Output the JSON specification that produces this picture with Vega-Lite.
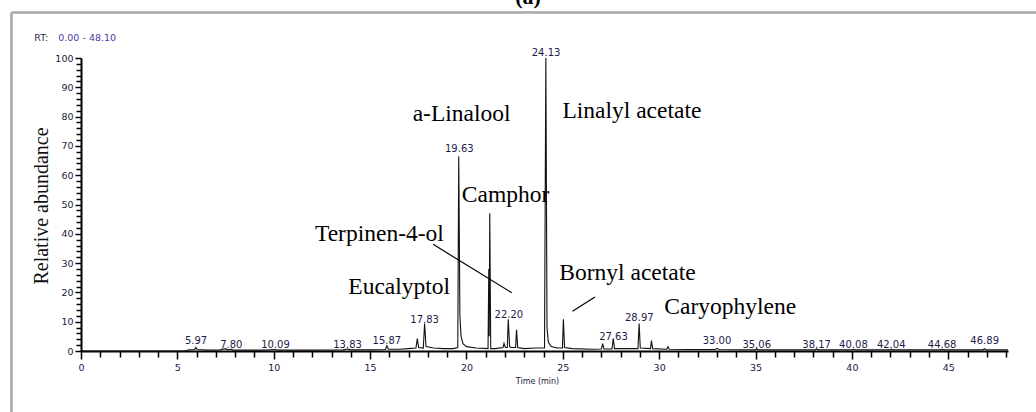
{
  "$schema": "https://vega.github.io/schema/vega-lite/v6.json",
  "width": 927,
  "height": 293,
  "autosize": {"type": "none"},
  "padding": {"left": 81, "top": 58, "right": 28, "bottom": 61},
  "background": "white",
  "config": {"view": {"stroke": null}},
  "datasets": {
    "trace": [
      {"rt": 0, "v": 0}, {"rt": 5.4, "v": 0}, {"rt": 5.6, "v": 0.4}, {"rt": 5.9, "v": 0.5}, {"rt": 5.96, "v": 1.2}, {"rt": 6.02, "v": 0.5},
      {"rt": 6.6, "v": 0.3}, {"rt": 7.2, "v": 0.4}, {"rt": 7.5, "v": 0.8}, {"rt": 7.6, "v": 0.4}, {"rt": 7.8, "v": 0.6}, {"rt": 7.9, "v": 0.3},
      {"rt": 9.5, "v": 0.3}, {"rt": 10.09, "v": 0.5}, {"rt": 10.2, "v": 0.3}, {"rt": 12.0, "v": 0.3}, {"rt": 13.6, "v": 0.4}, {"rt": 13.83, "v": 0.7},
      {"rt": 14.0, "v": 0.4}, {"rt": 15.0, "v": 0.4}, {"rt": 15.8, "v": 0.5}, {"rt": 15.87, "v": 1.8}, {"rt": 15.95, "v": 0.6}, {"rt": 16.5, "v": 0.6},
      {"rt": 17.0, "v": 0.8}, {"rt": 17.38, "v": 1.0}, {"rt": 17.45, "v": 4.2}, {"rt": 17.52, "v": 1.2}, {"rt": 17.76, "v": 1.0}, {"rt": 17.83, "v": 9.4},
      {"rt": 17.9, "v": 1.5}, {"rt": 18.3, "v": 1.0}, {"rt": 18.8, "v": 0.8}, {"rt": 19.3, "v": 0.8}, {"rt": 19.55, "v": 1.2}, {"rt": 19.6, "v": 66.5},
      {"rt": 19.66, "v": 12}, {"rt": 19.72, "v": 5}, {"rt": 19.82, "v": 2.5}, {"rt": 20.0, "v": 1.5}, {"rt": 20.5, "v": 1.0}, {"rt": 21.12, "v": 0.8},
      {"rt": 21.16, "v": 28}, {"rt": 21.18, "v": 5}, {"rt": 21.21, "v": 47}, {"rt": 21.23, "v": 28}, {"rt": 21.26, "v": 0.8}, {"rt": 21.5, "v": 0.8},
      {"rt": 21.9, "v": 1.2}, {"rt": 21.95, "v": 2.6}, {"rt": 22.02, "v": 1.2}, {"rt": 22.12, "v": 1.2}, {"rt": 22.17, "v": 10.8}, {"rt": 22.24, "v": 1.5},
      {"rt": 22.3, "v": 1.2}, {"rt": 22.55, "v": 1.2}, {"rt": 22.6, "v": 7.2}, {"rt": 22.66, "v": 1.2}, {"rt": 23.0, "v": 0.8}, {"rt": 23.6, "v": 1.0},
      {"rt": 24.05, "v": 1.0}, {"rt": 24.12, "v": 100}, {"rt": 24.18, "v": 8}, {"rt": 24.25, "v": 3}, {"rt": 24.4, "v": 1.5}, {"rt": 24.7, "v": 1.0},
      {"rt": 24.98, "v": 1.0}, {"rt": 25.03, "v": 10.8}, {"rt": 25.09, "v": 1.2}, {"rt": 25.5, "v": 0.8}, {"rt": 26.5, "v": 0.6}, {"rt": 27.0, "v": 0.7},
      {"rt": 27.07, "v": 2.5}, {"rt": 27.13, "v": 0.7}, {"rt": 27.55, "v": 0.7}, {"rt": 27.62, "v": 4.2}, {"rt": 27.68, "v": 0.8}, {"rt": 28.9, "v": 0.8},
      {"rt": 28.96, "v": 9.4}, {"rt": 29.02, "v": 1.0}, {"rt": 29.55, "v": 0.8}, {"rt": 29.6, "v": 3.6}, {"rt": 29.66, "v": 0.8}, {"rt": 30.4, "v": 0.6},
      {"rt": 30.46, "v": 1.5}, {"rt": 30.52, "v": 0.6}, {"rt": 31.5, "v": 0.5}, {"rt": 32.9, "v": 0.5}, {"rt": 33.0, "v": 0.9}, {"rt": 33.1, "v": 0.5},
      {"rt": 35.0, "v": 0.4}, {"rt": 35.06, "v": 0.8}, {"rt": 35.12, "v": 0.4}, {"rt": 38.1, "v": 0.4}, {"rt": 38.17, "v": 0.7}, {"rt": 38.25, "v": 0.4},
      {"rt": 40.0, "v": 0.4}, {"rt": 40.08, "v": 0.6}, {"rt": 40.15, "v": 0.4}, {"rt": 42.0, "v": 0.4}, {"rt": 42.04, "v": 0.6}, {"rt": 42.1, "v": 0.4},
      {"rt": 44.6, "v": 0.4}, {"rt": 44.68, "v": 0.6}, {"rt": 44.75, "v": 0.4}, {"rt": 46.8, "v": 0.4}, {"rt": 46.89, "v": 0.8}, {"rt": 46.95, "v": 0.4},
      {"rt": 48.1, "v": 0.4}
    ],
    "peaks": [
      {"rt": 5.97, "v": 1.2, "label": "5.97"},
      {"rt": 7.8, "v": 0, "label": "7.80"},
      {"rt": 10.09, "v": 0, "label": "10.09"},
      {"rt": 13.83, "v": 0, "label": "13.83"},
      {"rt": 15.87, "v": 1.2, "label": "15.87"},
      {"rt": 17.83, "v": 8.6, "label": "17.83"},
      {"rt": 19.63, "v": 66.8, "label": "19.63"},
      {"rt": 22.2, "v": 10.3, "label": "22.20"},
      {"rt": 24.13, "v": 99.8, "label": "24.13"},
      {"rt": 27.63, "v": 2.9, "label": "27.63"},
      {"rt": 28.97, "v": 9.1, "label": "28.97"},
      {"rt": 33.0, "v": 1.2, "label": "33.00"},
      {"rt": 35.06, "v": 0, "label": "35.06"},
      {"rt": 38.17, "v": 0, "label": "38.17"},
      {"rt": 40.08, "v": 0, "label": "40.08"},
      {"rt": 42.04, "v": 0, "label": "42.04"},
      {"rt": 44.68, "v": 0, "label": "44.68"},
      {"rt": 46.89, "v": 1.2, "label": "46.89"}
    ],
    "compounds": [
      {"rt": 17.21, "v": 78.4, "label": "a-Linalool"},
      {"rt": 24.98, "v": 79.6, "label": "Linalyl acetate"},
      {"rt": 19.76, "v": 50.8, "label": "Camphor"},
      {"rt": 12.14, "v": 37.5, "label": "Terpinen-4-ol"},
      {"rt": 13.87, "v": 19.6, "label": "Eucalyptol"},
      {"rt": 24.82, "v": 24.4, "label": "Bornyl acetate"},
      {"rt": 30.27, "v": 12.5, "label": "Caryophylene"}
    ],
    "leaders": [
      {"rt": 18.27, "v": 36.4, "rt2": 22.35, "v2": 19.9},
      {"rt": 25.5, "v": 13.6, "rt2": 26.67, "v2": 18.4}
    ],
    "frame": [
      {"rt": -3.61, "v": 115.5, "rt2": 60, "v2": 115.5},
      {"rt": -3.61, "v": -40, "rt2": -3.61, "v2": 115.5}
    ],
    "rtlabel": [
      {"rt": -2.42, "v": 106.8, "label": "RT:", "part": "a"},
      {"rt": -1.18, "v": 106.8, "label": "0.00 - 48.10", "part": "b"}
    ],
    "panel": [
      {"rt": 23.2, "v": 118.6, "label": "(a)"}
    ]
  },
  "layer": [
    {
      "data": {"name": "frame"},
      "mark": {"type": "rule", "color": "#a8a8a8", "strokeWidth": 2.5, "clip": false},
      "encoding": {
        "x": {"field": "rt", "type": "quantitative"},
        "x2": {"field": "rt2"},
        "y": {"field": "v", "type": "quantitative"},
        "y2": {"field": "v2"}
      }
    },
    {
      "data": {"name": "trace"},
      "mark": {"type": "line", "color": "#111111", "strokeWidth": 1.1, "clip": false},
      "encoding": {
        "x": {
          "field": "rt", "type": "quantitative",
          "scale": {"domain": [0, 48.1], "nice": false, "zero": false},
          "axis": {
            "title": "Time (min)", "titleFont": "DejaVu Sans", "titleFontSize": 8, "titleFontWeight": "normal",
            "titleColor": "#1a1a3a", "titleX": 456, "titleY": 30, "titleBaseline": "middle", "titleAlign": "center",
            "values": [0,1,2,3,4,5,6,7,8,9,10,11,12,13,14,15,16,17,18,19,20,21,22,23,24,25,26,27,28,29,30,31,32,33,34,35,36,37,38,39,40,41,42,43,44,45,46,47,48],
            "tickCount": 500,
            "format": "d",
            "labelExpr": "datum.value % 5 === 0 ? datum.label : ''",
            "labelFont": "DejaVu Sans", "labelFontSize": 9.5, "labelColor": "#1a1a3a", "labelPadding": 3,
            "labelFlush": false, "labelOverlap": false,
            "tickSize": {"condition": {"test": "datum.value % 5 === 0", "value": 8}, "value": 6},
            "tickColor": "#000000", "tickWidth": 1.5, "domainColor": "#000000", "domainWidth": 2, "grid": false
          }
        },
        "y": {
          "field": "v", "type": "quantitative",
          "scale": {"domain": [0, 100], "nice": false},
          "axis": {
            "title": "Relative abundance", "titleFont": "Liberation Serif", "titleFontSize": 20, "titleFontWeight": "normal",
            "titleColor": "#111111", "titleX": -34, "titleY": 147.5, "titleAngle": -90, "titleBaseline": "alphabetic", "titleAlign": "center",
            "values": [0,2,4,6,8,10,12,14,16,18,20,22,24,26,28,30,32,34,36,38,40,42,44,46,48,50,52,54,56,58,60,62,64,66,68,70,72,74,76,78,80,82,84,86,88,90,92,94,96,98,100],
            "tickCount": 500,
            "format": "d",
            "labelExpr": "datum.value % 10 === 0 ? datum.label : ''",
            "labelFont": "DejaVu Sans", "labelFontSize": 9.5, "labelColor": "#1a1a3a", "labelPadding": 2,
            "labelFlush": false, "labelOverlap": false,
            "tickSize": {"condition": {"test": "datum.value % 10 === 0", "value": 6}, "value": 5},
            "tickColor": "#000000", "tickWidth": 1.5, "domainColor": "#000000", "domainWidth": 2, "grid": false
          }
        }
      }
    },
    {
      "data": {"name": "peaks"},
      "mark": {"type": "text", "font": "DejaVu Sans", "fontSize": 10, "color": "#1c1c4a", "align": "center", "baseline": "alphabetic", "dy": -3, "clip": false},
      "encoding": {
        "x": {"field": "rt", "type": "quantitative"},
        "y": {"field": "v", "type": "quantitative"},
        "text": {"field": "label"}
      }
    },
    {
      "data": {"name": "compounds"},
      "mark": {"type": "text", "font": "Liberation Serif", "fontSize": 23.5, "color": "#000000", "align": "left", "baseline": "alphabetic", "clip": false},
      "encoding": {
        "x": {"field": "rt", "type": "quantitative"},
        "y": {"field": "v", "type": "quantitative"},
        "text": {"field": "label"}
      }
    },
    {
      "data": {"name": "leaders"},
      "mark": {"type": "rule", "color": "#000000", "strokeWidth": 1.2, "clip": false},
      "encoding": {
        "x": {"field": "rt", "type": "quantitative"},
        "x2": {"field": "rt2"},
        "y": {"field": "v", "type": "quantitative"},
        "y2": {"field": "v2"}
      }
    },
    {
      "data": {"name": "rtlabel"},
      "mark": {"type": "text", "font": "DejaVu Sans", "fontSize": 9.5, "align": "left", "baseline": "middle", "clip": false},
      "encoding": {
        "x": {"field": "rt", "type": "quantitative"},
        "y": {"field": "v", "type": "quantitative"},
        "text": {"field": "label"},
        "color": {"field": "part", "type": "nominal", "scale": {"domain": ["a", "b"], "range": ["#2a2a4a", "#4a3aa8"]}, "legend": null}
      }
    },
    {
      "data": {"name": "panel"},
      "mark": {"type": "text", "font": "Liberation Serif", "fontSize": 22, "fontWeight": "bold", "color": "#000000", "align": "center", "baseline": "alphabetic", "clip": false},
      "encoding": {
        "x": {"field": "rt", "type": "quantitative"},
        "y": {"field": "v", "type": "quantitative"},
        "text": {"field": "label"}
      }
    }
  ]
}
